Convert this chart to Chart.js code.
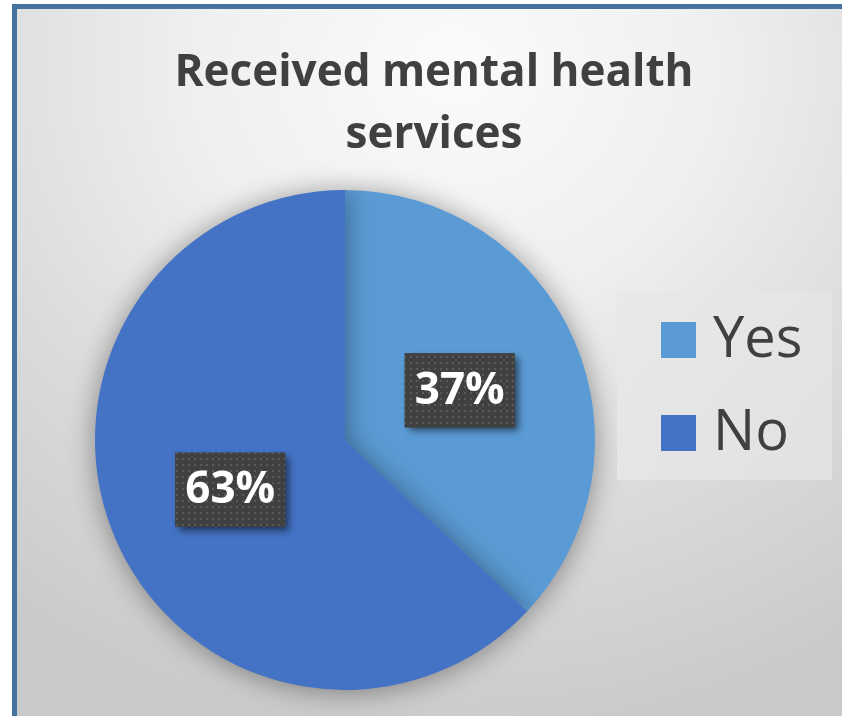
<!DOCTYPE html>
<html>
<head>
<meta charset="utf-8">
<script src="https://cdn.jsdelivr.net/npm/chart.js@4.4.1/dist/chart.umd.min.js"></script>
<style>
  html, body { margin: 0; padding: 0; width: 842px; height: 716px; overflow: hidden; background: #fff; }
  #frame {
    position: absolute; left: 12px; top: 4px; width: 840px; height: 720px;
    border-top: 5px solid #44739f; border-left: 5px solid #44739f;
    background: radial-gradient(ellipse 90% 95% at 52% 8%, #fbfbfb 0%, #efefef 35%, #dcdcdc 65%, #c9c9c9 100%);
  }
  #servicesChart { position: absolute; left: 0; top: 0; }
</style>
</head>
<body>
<div id="frame"></div>
<canvas id="servicesChart" width="842" height="716"></canvas>
<script>
const titleLines = ['Received mental health', 'services'];
const categories = ['Yes', 'No'];
const percentages = [37, 63];
const sliceColors = ['#5b9bd5', '#4472c4'];

// soft shadow under the pie
const pieShadow = {
    id: 'pieShadow',
    beforeDatasetsDraw(chart) {
        const ctx = chart.ctx;
        ctx.save();
        ctx.shadowColor = 'rgba(0, 0, 0, 0.4)';
        ctx.shadowBlur = 28;
        ctx.shadowOffsetX = 0;
        ctx.shadowOffsetY = 2;
    },
    afterDatasetsDraw(chart) {
        chart.ctx.restore();
    }
};

// two-line heading, centred over the whole panel
const heading = {
    id: 'heading',
    afterDraw(chart, args, opts) {
        const ctx = chart.ctx;
        ctx.save();
        ctx.font = 'bold 44px "Open Sans"';
        ctx.fillStyle = '#404040';
        ctx.textAlign = 'center';
        ctx.textBaseline = 'alphabetic';
        titleLines.forEach((line, i) => {
            ctx.fillText(line, opts.x, opts.y + i * opts.lineGap);
        });
        ctx.restore();
    }
};

// dark dotted boxes with the percentage of each slice
function dotPattern(ctx) {
    const c = document.createElement('canvas');
    c.width = 6; c.height = 6;
    const p = c.getContext('2d');
    p.fillStyle = '#404040';
    p.fillRect(0, 0, 6, 6);
    p.fillStyle = '#5a5a5a';
    p.fillRect(2, 2, 2, 2);
    return ctx.createPattern(c, 'repeat');
}

const valueBoxes = {
    id: 'valueBoxes',
    afterDatasetsDraw(chart) {
        const ctx = chart.ctx;
        const meta = chart.getDatasetMeta(0);
        const pattern = dotPattern(ctx);
        meta.data.forEach((arc, i) => {
            const pos = arc.tooltipPosition();
            const w = 110, h = 74;
            const x = pos.x - w / 2, y = pos.y - h / 2;
            ctx.save();
            ctx.shadowColor = 'rgba(0, 0, 0, 0.55)';
            ctx.shadowBlur = 7;
            ctx.shadowOffsetX = 4;
            ctx.shadowOffsetY = 4;
            ctx.fillStyle = '#404040';
            ctx.fillRect(x, y, w, h);
            ctx.restore();
            ctx.save();
            ctx.fillStyle = pattern;
            ctx.fillRect(x, y, w, h);
            ctx.font = 'bold 44px "Open Sans"';
            ctx.fillStyle = '#ffffff';
            ctx.textAlign = 'center';
            ctx.textBaseline = 'middle';
            ctx.fillText(chart.data.datasets[0].data[i] + '%', pos.x, pos.y + 1);
            ctx.restore();
        });
    }
};

// legend panel on the right
const sideLegend = {
    id: 'sideLegend',
    afterDraw(chart, args, opts) {
        const ctx = chart.ctx;
        ctx.save();
        const grad = ctx.createLinearGradient(opts.x, opts.y, opts.x + opts.w, opts.y + opts.h);
        grad.addColorStop(0, '#e9e9e9');
        grad.addColorStop(1, '#e1e1e1');
        ctx.fillStyle = grad;
        ctx.fillRect(opts.x, opts.y, opts.w, opts.h);
        ctx.font = '56px "Open Sans"';
        ctx.textBaseline = 'middle';
        ctx.textAlign = 'left';
        chart.data.labels.forEach((label, i) => {
            const cy = opts.y + opts.firstRow + i * opts.rowGap;
            ctx.fillStyle = chart.data.datasets[0].backgroundColor[i];
            ctx.fillRect(opts.x + 44, cy - 18, 35, 36);
            ctx.fillStyle = '#404040';
            ctx.fillText(label, opts.x + 96, cy + 1);
        });
        ctx.restore();
    }
};

const ctx = document.getElementById('servicesChart').getContext('2d');
new Chart(ctx, {
    type: 'pie',
    data: {
        labels: categories,
        datasets: [{
            data: percentages,
            backgroundColor: sliceColors,
            borderWidth: 0
        }]
    },
    options: {
        responsive: false,
        animation: false,
        devicePixelRatio: 1,
        layout: {
            padding: { top: 190, left: 95, right: 247, bottom: 26 }
        },
        plugins: {
            legend: { display: false },
            tooltip: { enabled: false },
            title: { display: false },
            heading: { x: 434, y: 86, lineGap: 62 },
            sideLegend: { x: 617, y: 292, w: 215, h: 188, firstRow: 48, rowGap: 93 }
        }
    },
    plugins: [pieShadow, valueBoxes, heading, sideLegend]
});
</script>
</body>
</html>
